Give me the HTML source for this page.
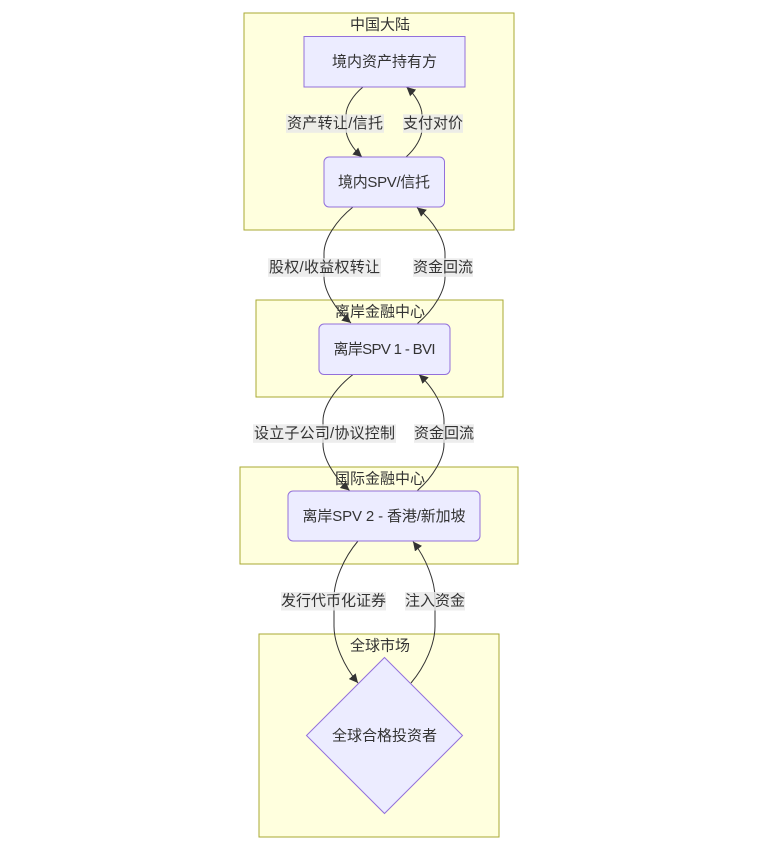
<!DOCTYPE html>
<html>
<head>
<meta charset="utf-8">
<style>
  html,body{margin:0;padding:0;background:#ffffff;}
  svg{display:block;}
  text{font-family:"Liberation Sans","Noto Sans CJK SC",sans-serif;font-size:15px;fill:#333333;}
</style>
</head>
<body>
<svg width="760" height="849" viewBox="0 0 760 849" xmlns="http://www.w3.org/2000/svg">
  <defs>
    <marker id="ah" viewBox="0 0 10 10" refX="10" refY="5" markerWidth="9" markerHeight="9" markerUnits="userSpaceOnUse" orient="auto">
      <path d="M0,0 L10,5 L0,10 z" fill="#333333"/>
    </marker>
  </defs>

  <!-- clusters -->
  <rect x="244" y="13" width="270" height="217" fill="#ffffde" stroke="#aaaa33" stroke-width="1"/>
  <text x="380" y="25" text-anchor="middle" dominant-baseline="central">中国大陆</text>

  <rect x="256" y="300" width="247" height="97" fill="#ffffde" stroke="#aaaa33" stroke-width="1"/>
  <text x="380" y="312" text-anchor="middle" dominant-baseline="central">离岸金融中心</text>

  <rect x="240" y="467" width="278" height="97" fill="#ffffde" stroke="#aaaa33" stroke-width="1"/>
  <text x="380" y="479" text-anchor="middle" dominant-baseline="central">国际金融中心</text>

  <rect x="259" y="634" width="240" height="203" fill="#ffffde" stroke="#aaaa33" stroke-width="1"/>
  <text x="380" y="646" text-anchor="middle" dominant-baseline="central">全球市场</text>

  <!-- edges -->
  <g fill="none" stroke="#333333" stroke-width="1" marker-end="url(#ah)">
    <path d="M363,87 C352.8,95.4 346,106.6 346,115 L346,129 C346,137.4 352.4,148.6 362,157"/>
    <path d="M406,157 C415.6,148.6 422,137.4 422,129 L422,115 C422,106.6 415.8,95.4 406.5,87"/>
    <path d="M353,207 C335.6,220.9 324,239.5 324,253.4 L324,276.6 C324,290.5 334.8,309.1 351,323"/>
    <path d="M417.5,323.5 C434,309.6 445,291 445,277.1 L445,253.9 C445,240 433.8,221.4 417,207.5"/>
    <path d="M353,374.5 C335,388.4 323,407 323,420.9 L323,444.1 C323,458 333.6,476.6 349.5,490.5"/>
    <path d="M417.5,490.5 C433.4,476.6 444,458 444,444.1 L444,420.9 C444,407 434,388.4 419,374.5"/>
    <path d="M358,541 C343.6,558 334,580.8 334,597.8 L334,626.2 C334,643.2 343.6,666 358,683"/>
    <path d="M411,683 C425.4,666 435,643.4 435,626.4 L435,598.1 C435,581.1 426.2,558.5 413,541.5"/>
  </g>

  <!-- edge labels -->
  <g fill="rgba(232,232,232,0.8)">
    <rect x="286" y="114.3" width="98" height="18.5"/>
    <rect x="403" y="114.3" width="60" height="18.5"/>
    <rect x="268" y="258.3" width="113" height="18.5"/>
    <rect x="413" y="258.3" width="60" height="18.5"/>
    <rect x="253" y="424.3" width="143" height="18.5"/>
    <rect x="414" y="424.3" width="60" height="18.5"/>
    <rect x="281" y="592" width="105" height="18.5"/>
    <rect x="405" y="592" width="60" height="18.5"/>
  </g>
  <text x="335" y="123.5" text-anchor="middle" dominant-baseline="central" textLength="96" lengthAdjust="spacing">资产转让/信托</text>
  <text x="433" y="123.5" text-anchor="middle" dominant-baseline="central">支付对价</text>
  <text x="324.5" y="267.5" text-anchor="middle" dominant-baseline="central" textLength="111" lengthAdjust="spacing">股权/收益权转让</text>
  <text x="443" y="267.5" text-anchor="middle" dominant-baseline="central">资金回流</text>
  <text x="324.5" y="433.5" text-anchor="middle" dominant-baseline="central" textLength="141" lengthAdjust="spacing">设立子公司/协议控制</text>
  <text x="444" y="433.5" text-anchor="middle" dominant-baseline="central">资金回流</text>
  <text x="333.5" y="601" text-anchor="middle" dominant-baseline="central">发行代币化证券</text>
  <text x="435" y="601" text-anchor="middle" dominant-baseline="central">注入资金</text>

  <!-- nodes -->
  <rect x="304" y="36.5" width="161" height="50.5" fill="#ECECFF" stroke="#9370DB" stroke-width="1"/>
  <text x="384.5" y="62" text-anchor="middle" dominant-baseline="central">境内资产持有方</text>

  <rect x="324" y="157" width="120.5" height="50" rx="5" ry="5" fill="#ECECFF" stroke="#9370DB" stroke-width="1"/>
  <text x="384" y="182.5" text-anchor="middle" dominant-baseline="central" textLength="92" lengthAdjust="spacing">境内SPV/信托</text>

  <rect x="319" y="324" width="131" height="50.5" rx="5" ry="5" fill="#ECECFF" stroke="#9370DB" stroke-width="1"/>
  <text x="384.5" y="349.5" text-anchor="middle" dominant-baseline="central" textLength="102" lengthAdjust="spacing">离岸SPV 1 - BVI</text>

  <rect x="288" y="491" width="192" height="50" rx="5" ry="5" fill="#ECECFF" stroke="#9370DB" stroke-width="1"/>
  <text x="384" y="516.5" text-anchor="middle" dominant-baseline="central" textLength="163" lengthAdjust="spacing">离岸SPV 2 - 香港/新加坡</text>

  <polygon points="384.5,657.5 462.5,735.5 384.5,813.5 306.5,735.5" fill="#ECECFF" stroke="#9370DB" stroke-width="1"/>
  <text x="384.5" y="736" text-anchor="middle" dominant-baseline="central">全球合格投资者</text>
</svg>
</body>
</html>
